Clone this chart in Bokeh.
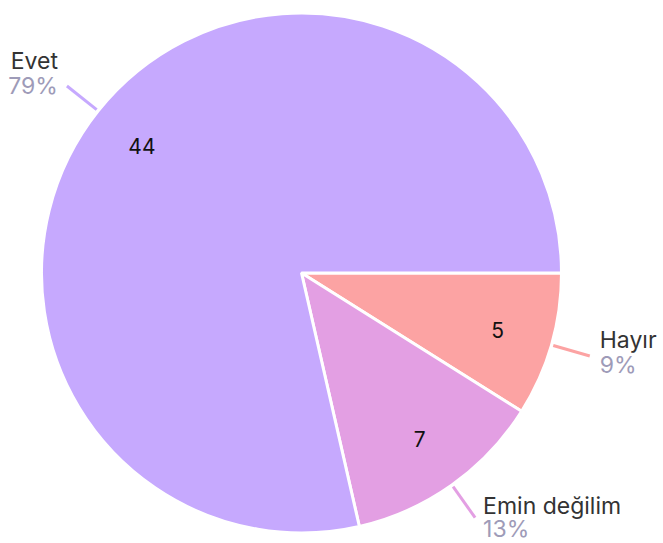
import math
from bokeh.plotting import figure
from bokeh.models import Range1d, ColumnDataSource
from bokeh.core.properties import value
from bokeh.embed import file_html
from bokeh.resources import INLINE

# ---- data ----
categories = ["Hayır", "Emin değilim", "Evet"]
counts = [5, 7, 44]
percent_labels = ["9%", "13%", "79%"]

# ---- style ----
colors = ["#fca3a3", "#e39fe3", "#c6a9fe"]
label_align = ["left", "left", "right"]
label_dx = [10, 8, -9]
name_dy = [-16, -12, -25]
pct_dy = [9, 11, 0]
FONT = "Inter"

W, H = 663, 543
CX, CY = 301, 272.5  # pie centre in page pixels
R = 260

p = figure(width=W, height=H, output_backend="svg", toolbar_location=None,
           x_axis_location=None, y_axis_location=None, min_border=0,
           x_range=Range1d(-CX, W - CX),
           y_range=Range1d(CY - H, CY))
p.grid.visible = False
p.outline_line_color = None
p.background_fill_color = "white"
p.border_fill_color = "white"

total = sum(counts)
starts, ends, mids = [], [], []
cum = 0
for c in counts:
    a0 = -2 * math.pi * cum / total
    cum += c
    a1 = -2 * math.pi * cum / total
    starts.append(a1)
    ends.append(a0)
    mids.append((a0 + a1) / 2)

src = ColumnDataSource(dict(cat=categories, cnt=counts, start=starts, end=ends,
                            color=colors))
p.wedge(x=0, y=0, radius=R, start_angle="start", end_angle="end",
        direction="anticlock", fill_color="color", line_color="white",
        line_width=3, source=src)

# inner count labels
ix = [0.785 * R * math.cos(m) for m in mids]
iy = [0.785 * R * math.sin(m) for m in mids]
p.text(x=ix, y=iy, text=[str(c) for c in counts], text_align="center",
       text_baseline="middle", text_font=value(FONT), text_font_size="21px",
       text_color="#111111")

# leader lines
r0, r1 = R + 2, R + 40
xs = [[r0 * math.cos(m), r1 * math.cos(m)] for m in mids]
ys = [[r0 * math.sin(m), r1 * math.sin(m)] for m in mids]
p.multi_line(xs=xs, ys=ys, line_color=colors, line_width=3)

ex = [r1 * math.cos(m) for m in mids]
ey = [r1 * math.sin(m) for m in mids]
for i in range(len(categories)):
    p.text(x=[ex[i] + label_dx[i]], y=[ey[i] - name_dy[i]], text=[categories[i]],
           text_align=label_align[i], text_baseline="alphabetic",
           text_font=value(FONT), text_font_size="23px", text_color="#333333")
    p.text(x=[ex[i] + label_dx[i]], y=[ey[i] - pct_dy[i]], text=[percent_labels[i]],
           text_align=label_align[i], text_baseline="alphabetic",
           text_font=value(FONT), text_font_size="23px", text_color="#9e9bb8")

open("out.html", "w").write(file_html(p, INLINE))
